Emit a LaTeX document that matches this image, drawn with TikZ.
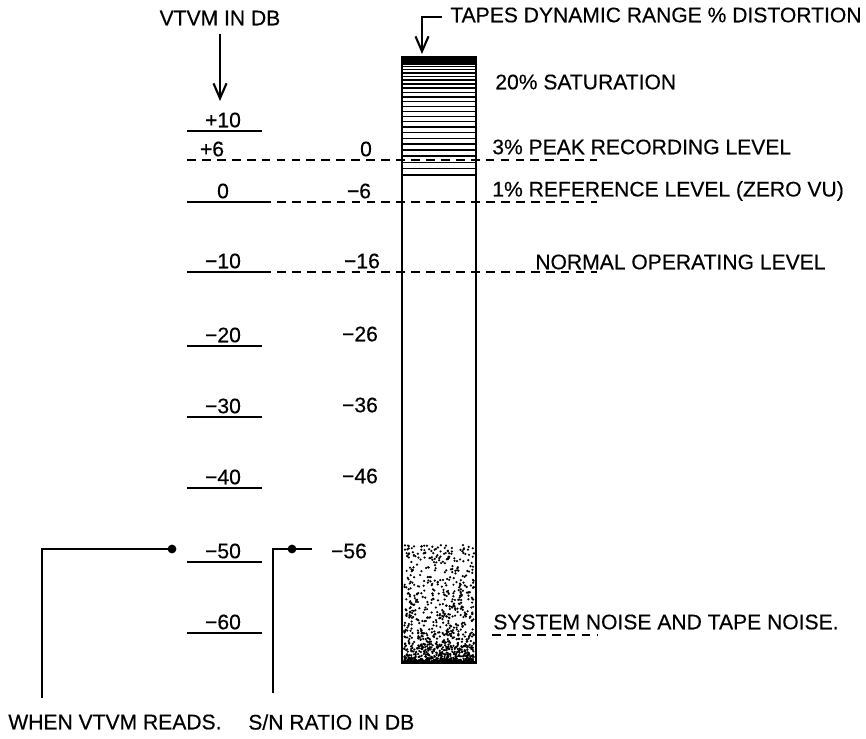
\documentclass[tikz,border=0pt]{standalone}
\usepackage{fontspec}
\setmainfont{Liberation Sans}
\usetikzlibrary{arrows.meta}
\tikzset{
	scaleln/.style={draw=black,line width=1.4pt},
	dashln/.style={draw=black,line width=1.2pt,dash pattern=on 5pt off 3.5pt},
	txt/.style={font=\fontsize{12}{14}\selectfont\addfontfeatures{FakeBold=0.4},inner sep=0pt},
	pointer/.style={draw=black,line width=1.2pt,-{Straight Barb[length=3mm,width=2.6mm,line width=1.2pt]}},
	lead/.style={draw=black,line width=1.4pt},
	knob/.style={circle,fill=black,inner sep=0pt,minimum size=5pt},
}

\begin{document}
\begin{tikzpicture}[x=0.02cm,y=-0.02cm]
	\useasboundingbox (0,0) rectangle (866,738);
	% tape column
	\coordinate (tt) at (402,57);
	\coordinate (tb) at (476,662);
	\foreach \k in {0,...,26}{
		\pgfmathsetmacro\yy{59+116*(\k/26)^1.45}
		\draw[line width=0.8pt] (402,\yy) -- (476,\yy);
	}
	\fill (402,57) rectangle (476,62);
	\pgfmathsetseed{42}
	\foreach \i in {1,...,950}{
		\pgfmathsetmacro\px{404+70*rnd}
		\pgfmathsetmacro\py{661-116*rnd^2.3}
		\fill (\px,\py) circle (0.7pt);
	}
	\draw[line width=1.7pt] (tt) rectangle (tb);
	% VTVM scale
	\foreach \y/\lab in {131/+10,202/0,272/−10,346/−20,417/−30,488/−40,562/−50,633/−60}{
		\coordinate (l\y) at (187,\y);
		\coordinate (r\y) at (262,\y);
		\draw[scaleln] (l\y) -- (r\y);
		\node[txt] (v\y) at (223,\y-11) {\lab};
	}
	\coordinate (l160) at (187,160);
	\node[txt] (v160) at (212,149) {+6};
	% S/N scale
	\foreach \x/\y/\lab in {366/149/0,359/191/−6,362/261/−16,360/334/−26,360/405/−36,360/476/−46}
	\node[txt] (s\y) at (\x,\y) {\lab};
	\node[txt] (s551) at (349,551) {−56};
	% level lines
	\coordinate (e160) at (597,160);
	\coordinate (e202) at (597,202);
	\coordinate (e272) at (597,272);
	\draw[dashln] (l160) -- (e160);
	\draw[dashln] (r202) -- (e202);
	\draw[dashln] (r272) -- (e272);
	\draw[dashln] (492,635) coordinate (n0) -- (598,635) coordinate (n1);
	% levels
	\node[txt,anchor=west] (sat) at (495,82) {20\% SATURATION};
	\node[txt,anchor=west] (peak) at (492,147) {3\% PEAK RECORDING LEVEL};
	\node[txt,anchor=west] (ref) at (492,191) {1\% REFERENCE LEVEL (ZERO VU)};
	\node[txt,anchor=west] (norm) at (535,262) {NORMAL OPERATING LEVEL};
	\node[txt,anchor=west] (noise) at (493,622) {SYSTEM NOISE AND TAPE NOISE.};
	% headings
	\node[txt] (vtvm) at (220,18) {VTVM IN DB};
	\coordinate (va) at (220,34);
	\coordinate (vb) at (220,101);
	\draw[pointer] (va) -- (vb);
	\node[txt,anchor=west] (tapes) at (450,15) {TAPES DYNAMIC RANGE \% DISTORTION};
	\coordinate (ta) at (442,17);
	\coordinate (tc) at (422,54);
	\draw[pointer] (ta) -| (tc);
	% bottom leads
	\node[knob] (k1) at (172,549) {};
	\node[knob] (k2) at (292,549) {};
	\coordinate (w1) at (42,698);
	\coordinate (w2) at (273,693);
	\coordinate (w3) at (312,549);
	\draw[lead] (k1.center) -| (w1);
	\draw[lead] (w3) -| (w2);
	\node[txt,anchor=west] (when) at (8,722) {WHEN VTVM READS.};
	\node[txt,anchor=west] (snr) at (248,722) {S/N RATIO IN DB};
\end{tikzpicture}
\end{document}
